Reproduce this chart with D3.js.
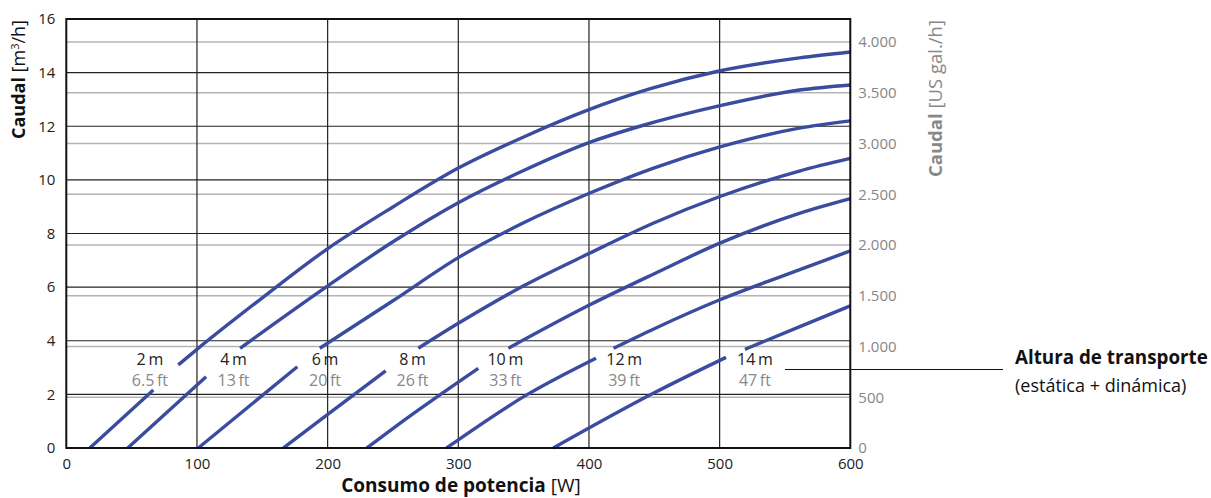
<!DOCTYPE html>
<html>
<head>
<meta charset="utf-8">
<title>Caudal vs consumo de potencia</title>
<script src="https://cdn.jsdelivr.net/npm/d3@7"></script>
<style>
body {
  margin: 0;
  background: #fff;
  font-family: "Open Sans", sans-serif;
}
.tick text { font-family: "Open Sans", sans-serif; }
</style>
</head>
<body>
<svg id="chart" width="1211" height="498"></svg>
<script>

// Data
var powerTicks = [0, 100, 200, 300, 400, 500, 600];
var flowTicks = [0, 2, 4, 6, 8, 10, 12, 14, 16];
var galTicks = [0, 500, 1000, 1500, 2000, 2500, 3000, 3500, 4000];
var headM = ['2\u2009m', '4\u2009m', '6\u2009m', '8\u2009m', '10\u2009m', '12\u2009m', '14\u2009m'];
var headFt = ['6.5\u2009ft', '13\u2009ft', '20\u2009ft', '26\u2009ft', '33\u2009ft', '39\u2009ft', '47\u2009ft'];
var labelAt = [64, 128, 198, 265, 336, 427, 527]; // W under each head label

// lower part of each curve (below the labels), [W, m3/h]
var lowerParts = [
  [[18, 0], [66.6, 2.16]],
  [[47, 0], [107, 2.66]],
  [[101, 0], [176.8, 3.03]],
  [[166, 0], [199.3, 1.23], [244.4, 2.88]],
  [[230, 0], [255.3, 0.92], [315.3, 2.97]],
  [[291, 0], [352.3, 1.98], [405.4, 3.35]],
  [[372.7, 0], [449.2, 2.04], [504.9, 3.38]]
];
// upper part of each curve (above the labels)
var upperParts = [
  [[85.7, 3.1], [100, 3.68], [150, 5.6], [199.3, 7.41], [250.3, 9.0], [300, 10.44], [350, 11.6], [399, 12.6], [447, 13.4], [499.5, 14.06], [561, 14.55], [600, 14.77]],
  [[133, 3.72], [199.3, 6.02], [250.3, 7.7], [300, 9.15], [350, 10.35], [399.5, 11.38], [439, 12.0], [499.5, 12.76], [561, 13.35], [600, 13.54]],
  [[194, 3.72], [250.3, 5.5], [300, 7.1], [350, 8.4], [400.3, 9.5], [450, 10.45], [499.5, 11.22], [561, 11.93], [600, 12.2]],
  [[269.4, 3.72], [300, 4.65], [350, 6.05], [400.3, 7.26], [450, 8.4], [499.7, 9.37], [561, 10.33], [600, 10.8]],
  [[338.3, 3.72], [400.3, 5.33], [450, 6.5], [499.7, 7.63], [561, 8.75], [600, 9.3]],
  [[418.8, 3.72], [450, 4.45], [499.7, 5.52], [550, 6.45], [600, 7.35]],
  [[519.4, 3.68], [560, 4.5], [600, 5.3]]
];

var GAL = 3.785411784; // litres per US gallon

var svg = d3.select('#chart');
var x = d3.scaleLinear().domain([0, 600]).range([66.3, 850.3]);
var y = d3.scaleLinear().domain([0, 16]).range([448, 19]);
var yGal = d3.scaleLinear().domain([0, 16 * 1000 / GAL]).range([448, 19]);

var fmtGal = d3.formatLocale({decimal: ',', thousands: '.', grouping: [3], currency: ['', '']}).format(',');

// grey US gal grid lines
svg.append('g').selectAll('line').data(galTicks.slice(1)).enter().append('line')
  .attr('x1', x(0)).attr('x2', x(600))
  .attr('y1', function(d) { return yGal(d); }).attr('y2', function(d) { return yGal(d); })
  .style('stroke', '#b4b4b4').style('stroke-width', 1.5);

// m3/h grid lines
svg.append('g').selectAll('line').data(flowTicks.slice(1, -1)).enter().append('line')
  .attr('x1', x(0)).attr('x2', x(600))
  .attr('y1', function(d) { return y(d); }).attr('y2', function(d) { return y(d); })
  .style('stroke', '#222').style('stroke-width', 1.2);

svg.append('g').selectAll('line').data(powerTicks.slice(1, -1)).enter().append('line')
  .attr('y1', y(0)).attr('y2', y(16))
  .attr('x1', function(d) { return x(d); }).attr('x2', function(d) { return x(d); })
  .style('stroke', '#222').style('stroke-width', 1.2);

// curves
var line = d3.line()
  .x(function(d) { return x(d[0]); })
  .y(function(d) { return y(d[1]); })
  .curve(d3.curveMonotoneX);

svg.append('g').selectAll('path').data(lowerParts.concat(upperParts)).enter().append('path')
  .attr('d', line)
  .style('fill', 'none')
  .style('stroke', '#3a4c9f')
  .style('stroke-width', 3.4);

// frame
svg.append('rect')
  .attr('x', x(0)).attr('y', y(16))
  .attr('width', x(600) - x(0)).attr('height', y(0) - y(16))
  .style('fill', 'none').style('stroke', '#111').style('stroke-width', 2);

// axes
var axL = svg.append('g').attr('transform', 'translate(' + x(0) + ',0)')
  .call(d3.axisLeft(y).tickValues(flowTicks).tickSize(0).tickPadding(11));
var axB = svg.append('g').attr('transform', 'translate(0,' + y(0) + ')')
  .call(d3.axisBottom(x).tickValues(powerTicks).tickSize(0).tickPadding(10));
var axR = svg.append('g').attr('transform', 'translate(' + x(600) + ',0)')
  .call(d3.axisRight(yGal).tickValues(galTicks).tickFormat(fmtGal).tickSize(0).tickPadding(8));
[axL, axB, axR].forEach(function(a) {
  a.select('.domain').remove();
  a.selectAll('text').style('font-size', '15px');
});
axL.selectAll('text').style('fill', '#222');
axB.selectAll('text').style('fill', '#222');
axR.selectAll('text').style('fill', '#868686');

// head labels
var lab = svg.append('g').style('font-size', '16px').style('text-anchor', 'middle');
lab.selectAll('text.m').data(headM).enter().append('text').attr('class', 'm')
  .attr('x', function(d, i) { return x(labelAt[i]); }).attr('y', 365)
  .style('fill', '#222').text(function(d) { return d; });
lab.selectAll('text.ft').data(headFt).enter().append('text').attr('class', 'ft')
  .attr('x', function(d, i) { return x(labelAt[i]); }).attr('y', 386)
  .style('fill', '#888').text(function(d) { return d; });

// axis titles
var tl = svg.append('text')
  .attr('transform', 'translate(25,20) rotate(-90)')
  .style('text-anchor', 'end').style('font-size', '18px').style('fill', '#111');
tl.append('tspan').style('font-weight', 'bold').text('Caudal ');
tl.append('tspan').text('[m');
tl.append('tspan').attr('dy', -6).style('font-size', '11px').text('3');
tl.append('tspan').attr('dy', 6).text('/h]');

var tr = svg.append('text')
  .attr('transform', 'translate(942,20) rotate(-90)')
  .style('text-anchor', 'end').style('font-size', '18.5px').style('fill', '#888');
tr.append('tspan').style('font-weight', 'bold').text('Caudal ');
tr.append('tspan').text('[US gal./h]');

var tb = svg.append('text')
  .attr('x', 461).attr('y', 492)
  .style('text-anchor', 'middle').style('font-size', '19px').style('fill', '#111');
tb.append('tspan').style('font-weight', 'bold').text('Consumo de potencia ');
tb.append('tspan').text('[W]');

// legend for the head labels
svg.append('line')
  .attr('x1', 785).attr('x2', 1003).attr('y1', 369.5).attr('y2', 369.5)
  .style('stroke', '#111').style('stroke-width', 1.2);
svg.append('text').attr('x', 1015).attr('y', 364)
  .style('font-size', '18.8px').style('font-weight', 'bold').style('fill', '#111')
  .text('Altura de transporte');
svg.append('text').attr('x', 1015).attr('y', 392)
  .style('font-size', '18px').style('fill', '#111')
  .text('(estática + dinámica)');

</script>
</body>
</html>
